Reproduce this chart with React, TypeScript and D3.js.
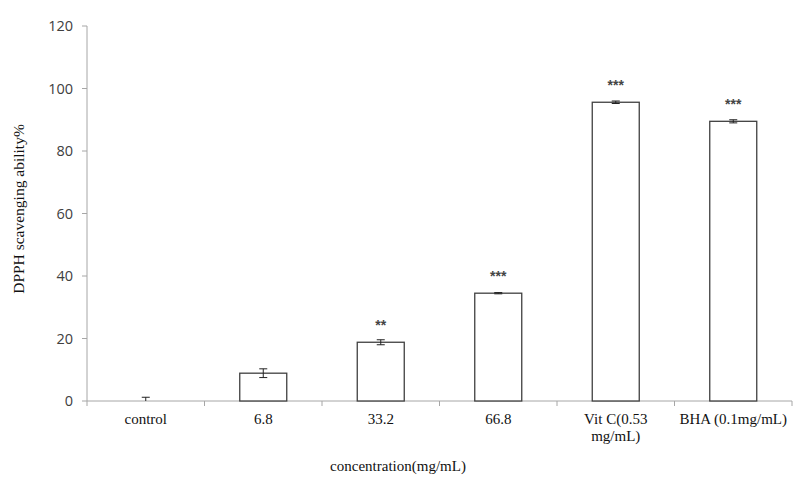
import React from 'react';
import * as d3 from 'd3';

const categories = ['control', '6.8', '33.2', '66.8', 'Vit C(0.53 mg/mL)', 'BHA (0.1mg/mL)'];
const labelLines = [['control'], ['6.8'], ['33.2'], ['66.8'], ['Vit C(0.53', 'mg/mL)'], ['BHA (0.1mg/mL)']];
const values = [0, 8.9, 18.8, 34.5, 95.6, 89.5];
const errors = [1.2, 1.4, 0.8, 0.2, 0.4, 0.5];
const stars = ['', '', '**', '***', '***', '***'];
const yTicks = [0, 20, 40, 60, 80, 100, 120];

const W = 798;
const H = 478;
const margin = { left: 87, right: 6, top: 26, bottom: 77 };

const App = () => {
  const x = d3.scaleBand<string>()
    .domain(categories)
    .range([margin.left, W - margin.right])
    .paddingInner(0.6)
    .paddingOuter(0.3);
  const step = x.step();
  const y = d3.scaleLinear().domain([0, 120]).range([H - margin.bottom, margin.top]);
  const axisColor = '#a6a6a6';
  const barColor = '#404040';
  const y0 = y(0);

  // category boundaries for tick marks
  const bounds = categories.map((_, i) => margin.left + i * step).concat([W - margin.right]);

  return (
    <svg width={W} height={H} style={{ position: 'absolute', left: 0, top: 0, background: '#fff' }}>
      {/* y axis */}
      <line x1={margin.left} x2={margin.left} y1={y(120)} y2={y0} stroke={axisColor} />
      {yTicks.map(t => (
        <g key={t}>
          <line x1={margin.left - 5} x2={margin.left} y1={y(t)} y2={y(t)} stroke={axisColor} />
          <text x={margin.left - 14} y={y(t)} dy="0.35em" textAnchor="end" fontFamily="Open Sans, sans-serif" fontSize={14.5} fill="#404040">{t}</text>
        </g>
      ))}
      {/* x axis */}
      <line x1={margin.left} x2={W - margin.right} y1={y0} y2={y0} stroke={axisColor} />
      {bounds.map((b, i) => (
        <line key={i} x1={b} x2={b} y1={y0} y2={y0 + 5} stroke={axisColor} />
      ))}
      {/* bars */}
      {categories.map((c, i) => {
        const bx = x(c)!;
        const cx = bx + x.bandwidth() / 2;
        const top = y(values[i]);
        return (
          <g key={c}>
            {values[i] > 0 && (
              <rect x={bx} y={top} width={x.bandwidth()} height={y0 - top} fill="#fff" stroke={barColor} strokeWidth={1.3} />
            )}
            <line x1={cx} x2={cx} y1={y(values[i] + errors[i])} y2={Math.min(y0, y(values[i] - errors[i]))} stroke="#222" strokeWidth={1} />
            <line x1={cx - 4} x2={cx + 4} y1={y(values[i] + errors[i])} y2={y(values[i] + errors[i])} stroke="#222" strokeWidth={1} />
            {values[i] - errors[i] > 0 && (
              <line x1={cx - 4} x2={cx + 4} y1={y(values[i] - errors[i])} y2={y(values[i] - errors[i])} stroke="#222" strokeWidth={1} />
            )}
            {stars[i] && (
              <text x={cx} y={top - 12} textAnchor="middle" fontFamily="Liberation Sans, sans-serif" fontSize={14} fontWeight="bold" fill="#444">{stars[i]}</text>
            )}
            <text x={cx} y={y0 + 23} textAnchor="middle" fontFamily="Liberation Serif, serif" fontSize={15} fill="#111">
              {labelLines[i].map((l, j) => (
                <tspan key={j} x={cx} dy={j === 0 ? 0 : 17}>{l}</tspan>
              ))}
            </text>
          </g>
        );
      })}
      {/* axis titles */}
      <text x={398} y={471} textAnchor="middle" fontFamily="Liberation Serif, serif" fontSize={15} fill="#111">concentration(mg/mL)</text>
      <text transform={`translate(24,209) rotate(-90)`} textAnchor="middle" fontFamily="Liberation Serif, serif" fontSize={15.5} fill="#111">DPPH scavenging ability%</text>
    </svg>
  );
};

export default App;
